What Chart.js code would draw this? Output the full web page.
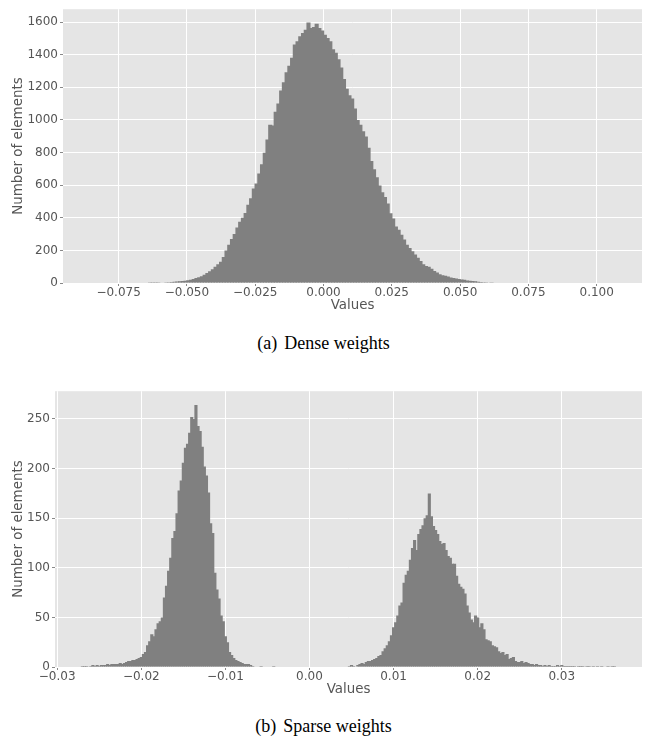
<!DOCTYPE html>
<html>
<head>
<meta charset="utf-8">
<script src="https://cdn.jsdelivr.net/npm/chart.js@4"></script>
<style>
  html, body { margin: 0; padding: 0; background: #fff; }
  #page { position: relative; width: 647px; height: 738px; overflow: hidden; }
  canvas { position: absolute; left: 0; }
  .caption {
    position: absolute; left: 0; width: 647px; text-align: center;
    font-family: "Liberation Serif", serif; font-size: 18px; line-height: 22px; color: #000;
  }
  .caption span { margin-right: 7px; }
</style>
</head>
<body>
<div id="page">
  <canvas id="dense" width="647" height="314" style="top:0"></canvas>
  <div class="caption" style="top:332px"><span>(a)</span>Dense weights</div>
  <canvas id="sparse" width="647" height="316" style="top:382px"></canvas>
  <div class="caption" style="top:715px"><span>(b)</span>Sparse weights</div>
</div>
<script>
// dense weights histogram: bin centres start at denseStart, one bin every denseStep
const denseStart = -0.0635;
const denseStep = 0.001;
const denseCounts = [
  1, 1, 2, 2, 3, 3, 4, 5, 6, 7,
  9, 10, 12, 14, 17, 20, 24, 30, 36, 42,
  50, 62, 72, 85, 100, 115, 130, 160, 200, 235,
  270, 300, 340, 375, 400, 430, 480, 520, 580, 610,
  672, 728, 799, 880, 970, 966, 1050, 1100, 1181, 1231,
  1292, 1332, 1382, 1463, 1483, 1513, 1533, 1553, 1598, 1563,
  1570, 1590, 1563, 1549, 1523, 1503, 1483, 1433, 1412, 1372,
  1322, 1251, 1191, 1151, 1131, 1070, 1000, 970, 930, 899,
  829, 748, 698, 648, 598, 557, 527, 487, 427, 396,
  346, 326, 296, 266, 235, 215, 195, 175, 155, 135,
  115, 105, 100, 88, 74, 64, 54, 48, 44, 40,
  34, 30, 28, 24, 22, 20, 16, 14, 12, 10,
  8, 6, 5, 4, 3, 2
];
const denseXTicks = [-0.075, -0.05, -0.025, 0, 0.025, 0.05, 0.075, 0.1];
const denseYTicks = [0, 200, 400, 600, 800, 1000, 1200, 1400, 1600];

// sparse weights histogram
const sparseStart = -0.027;
const sparseStep = 0.00025;
const sparseCounts = [
  1, 1, 1, 0, 1, 2, 1, 2, 1, 2,
  2, 2, 3, 2, 3, 3, 3, 3, 4, 3,
  4, 5, 6, 6, 7, 7, 8, 9, 10, 13,
  15, 22, 26, 33, 31, 38, 44, 46, 50, 70,
  82, 97, 110, 130, 137, 155, 178, 188, 206, 221,
  225, 236, 252, 250, 264, 243, 238, 222, 202, 193,
  176, 145, 135, 95, 78, 69, 52, 46, 31, 25,
  15, 12, 9, 7, 6, 5, 4, 3, 3, 3,
  2, 1, 0, 0, 0, 1, 0, 0, 0, 0,
  0, 1, 0, 0, 0, 0, 0, 0, 0, 0,
  0, 0, 0, 0, 0, 0, 0, 0, 0, 0,
  0, 0, 0, 0, 0, 0, 0, 0, 0, 0,
  0, 0, 0, 0, 0, 0, 0, 1, 2, 1,
  0, 2, 3, 4, 3, 5, 6, 6, 7, 8,
  9, 11, 12, 16, 19, 22, 26, 32, 40, 45,
  52, 62, 65, 85, 93, 97, 108, 120, 128, 118,
  134, 139, 143, 150, 153, 175, 152, 142, 138, 134,
  127, 124, 125, 118, 112, 110, 104, 104, 92, 84,
  81, 79, 74, 62, 55, 48, 45, 52, 50, 40,
  44, 38, 28, 27, 26, 22, 21, 20, 16, 14,
  15, 12, 13, 8, 9, 10, 6, 5, 5, 6,
  4, 5, 4, 3, 3, 2, 3, 2, 2, 1,
  2, 1, 2, 1, 1, 1, 2, 1, 2, 1,
  1, 1, 1, 1, 1, 0, 1, 1, 1, 0,
  1, 1, 0, 1, 0, 1, 0, 1, 0, 0,
  1, 0, 1, 1
];
const sparseXTicks = [-0.03, -0.02, -0.01, 0, 0.01, 0.02, 0.03];
const sparseYTicks = [0, 50, 100, 150, 200, 250];

const textGrey = '#555555';
const barGrey = '#808080';
Chart.defaults.font.family = 'DejaVu Sans';

const plotBg = {
  id: 'plotBg',
  beforeDraw(chart) {
    const { ctx, chartArea: a } = chart;
    ctx.save();
    ctx.fillStyle = '#e5e5e5';
    ctx.fillRect(a.left, a.top, a.right - a.left, a.bottom - a.top);
    ctx.restore();
  }
};

function minusSign(s) {
  return s.replace('-', '\u2212');
}

function histogram(id, start, step, counts, xTicks, yTicks, xMin, xMax, yMax, yWidth, decimals) {
  const points = counts.map((c, i) => ({ x: start + i * step, y: c }));
  const tickFont = { size: 12 };
  const labelFont = { size: 13.4 };
  new Chart(document.getElementById(id), {
    type: 'bar',
    data: {
      datasets: [{
        data: points,
        backgroundColor: barGrey,
        borderWidth: 0,
        inflateAmount: 0,
        barPercentage: 1.5,
        categoryPercentage: 1
      }]
    },
    options: {
      responsive: false,
      animation: false,
      devicePixelRatio: 1,
      layout: { padding: { top: 6, right: 5, left: 0, bottom: 0 } },
      plugins: { legend: { display: false }, tooltip: { enabled: false } },
      scales: {
        x: {
          type: 'linear',
          min: xMin,
          max: xMax,
          offset: false,
          afterFit: s => { s.height = 31; },
          afterBuildTicks: s => { s.ticks = xTicks.map(v => ({ value: v })); },
          grid: { color: '#ffffff', lineWidth: 1, offset: false, tickColor: '#888', tickLength: 3 },
          border: { display: false },
          ticks: {
            color: textGrey, font: tickFont, padding: 0, maxRotation: 0, autoSkip: false,
            callback: v => minusSign(v.toFixed(decimals))
          },
          title: { display: true, text: 'Values', color: textGrey, font: labelFont, padding: 0 }
        },
        y: {
          min: 0,
          max: yMax,
          afterFit: s => { s.width = yWidth; },
          afterBuildTicks: s => { s.ticks = yTicks.map(v => ({ value: v })); },
          grid: { color: '#ffffff', lineWidth: 1, tickColor: '#888', tickLength: 3 },
          border: { display: false },
          ticks: { color: textGrey, font: tickFont, padding: 2, callback: v => String(v) },
          title: {
            display: true, text: 'Number of elements', color: textGrey, font: labelFont,
            padding: { top: 10, bottom: 0 }
          }
        }
      }
    },
    plugins: [plotBg]
  });
}

histogram('dense', denseStart, denseStep, denseCounts, denseXTicks, denseYTicks,
  -0.09535, 0.11658, 1679, 63, 3);
histogram('sparse', sparseStart, sparseStep, sparseCounts, sparseXTicks, sparseYTicks,
  -0.03026, 0.03954, 278, 55, 2);
</script>
</body>
</html>
